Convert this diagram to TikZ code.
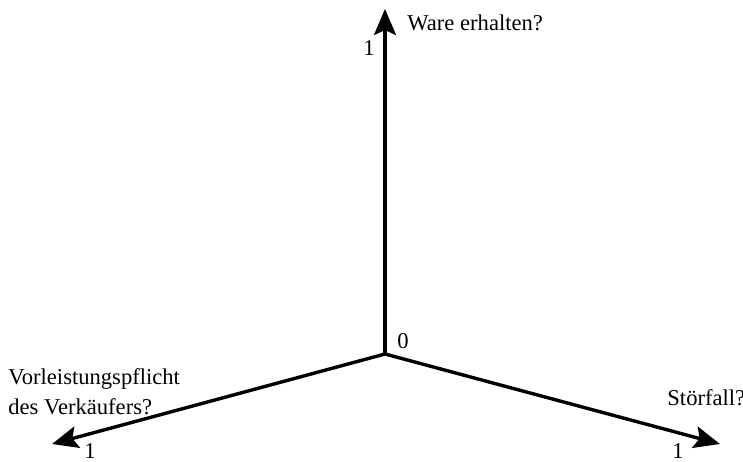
\documentclass[tikz,border=0pt]{standalone}
\usepackage{fontspec}
\setmainfont{Liberation Serif}
\usetikzlibrary{arrows.meta}
\begin{document}
\begin{tikzpicture}[x=0.5pt,y=-0.5pt,
  axis/.style={line width=1.7pt,-{Stealth[length=13pt,width=11pt,inset=2.5pt]}},
  lbl/.style={inner sep=0pt,font=\fontsize{11.3}{15}\selectfont}]
\useasboundingbox (0,0) rectangle (743,461);
\coordinate (O) at (385,354);
\coordinate (U) at (385,9);
\coordinate (L) at (52,444);
\coordinate (R) at (720,444);
\draw[axis] (O) -- (U);
\draw[axis] (O) -- (L);
\draw[axis] (O) -- (R);
\node[lbl,anchor=base west] (tw) at (407,30) {Ware erhalten?};
\node[lbl,anchor=base east] (t1u) at (375,55) {1};
\node[lbl,anchor=base west] (t0) at (397,348) {0};
\node[lbl,anchor=base] (t1l) at (90,458) {1};
\node[lbl,anchor=base] (t1r) at (678,458) {1};
\node[lbl,anchor=north west,align=left] (tv) at (8,368) {Vorleistungspflicht\\des Verkäufers?};
\node[lbl,anchor=base west] (ts) at (667,405) {Störfall?};
\end{tikzpicture}
\end{document}
